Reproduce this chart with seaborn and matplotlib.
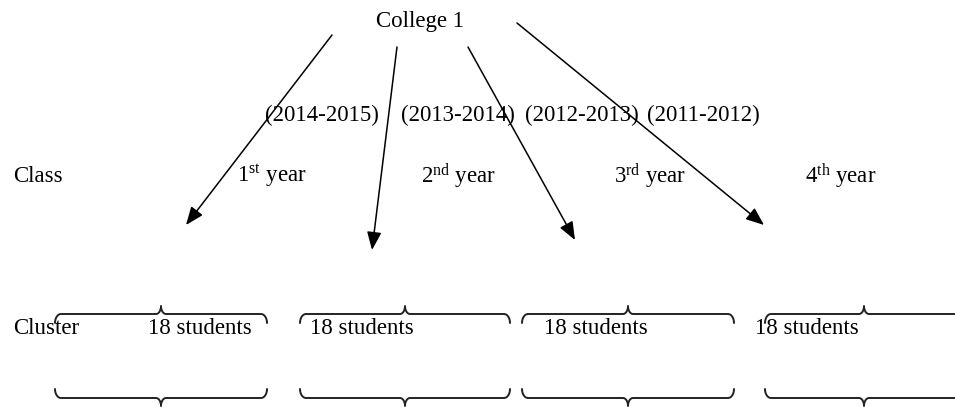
import numpy as np
import matplotlib.pyplot as plt
import seaborn as sns

sns.set_theme(style="white")
plt.rcParams['font.family'] = ['Liberation Serif', 'DejaVu Serif']
plt.rcParams['mathtext.default'] = 'regular'

# diagram content
root = 'College 1'
year_nums = ['1', '2', '3', '4']
year_suffix = ['st', 'nd', 'rd', 'th']
periods = ['(2014-2015)', '(2013-2014)', '(2012-2013)', '(2011-2012)']
cluster_sizes = [18, 18, 18, 18]

# layout (pixel coords, y downwards)
period_x = [265, 401, 525, 647]
year_x = [237, 421, 614, 805]
student_x = [148, 310, 544, 755]
brace_left = [55, 300, 522, 765]
brace_right = [267, 510, 734, 985]
brace_mid = [161, 405, 628, 864]
arrow_from = [(332, 35), (397, 47), (468, 47), (517, 23)]
arrow_to = [(186, 225), (372, 250), (575, 240), (764, 225)]


def brace(ax, x0, x1, xm, y, d=1, r=6, h=9, k=8):
    # d=1: tip up, ends down; d=-1: flipped
    t = np.linspace(0, np.pi / 2, 12)
    lx = x0 + r - r * np.cos(t)
    ly = y + d * (h - h * np.sin(t))
    tx = xm - 5 + 5 * np.sin(t)
    ty = y - d * (k - k * np.cos(t))
    xs = np.concatenate([lx, tx, (2 * xm - tx)[::-1], x1 - (lx - x0)[::-1]])
    ys = np.concatenate([ly, ty, ty[::-1], ly[::-1]])
    ax.plot(xs, ys, color='#222222', lw=1.4, solid_capstyle='round')


fig = plt.figure(figsize=(9.55, 4.07), dpi=100)
ax = fig.add_axes([0, 0, 1, 1])
ax.set_xlim(0, 955)
ax.set_ylim(407, 0)
ax.axis('off')

fs = 16.5
ax.text(376, 22, root, fontsize=fs, va='center', ha='left', color='black')

for (x0, y0), (x1, y1) in zip(arrow_from, arrow_to):
    ax.annotate('', xy=(x1, y1), xytext=(x0, y0),
                arrowprops=dict(arrowstyle='-|>,head_length=0.55,head_width=0.22',
                                mutation_scale=20, color='black', lw=1.1,
                                shrinkA=0, shrinkB=0))

for x, p in zip(period_x, periods):
    ax.text(x, 115, p, fontsize=fs, va='center', ha='left', color='black')

ax.text(13, 176, 'Class', fontsize=fs, va='center', ha='left', color='black')
for x, n, s in zip(year_x, year_nums, year_suffix):
    ax.text(x, 176, n + '$^{' + s + '}$ year', fontsize=fs, va='center',
            ha='left', color='black')

ax.text(13, 329, 'Cluster', fontsize=fs, va='center', ha='left', color='black')
for x, c in zip(student_x, cluster_sizes):
    ax.text(x, 329, f'{c} students', fontsize=fs, va='center', ha='left',
            color='black')

for a, b, m in zip(brace_left, brace_right, brace_mid):
    brace(ax, a, b, m, 314, d=1)
    brace(ax, a, b, m, 398, d=-1)

fig.savefig('out.png', dpi=100, facecolor='white')
